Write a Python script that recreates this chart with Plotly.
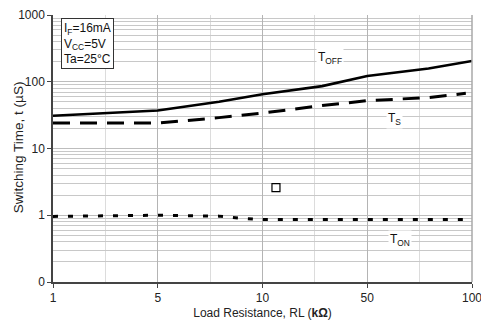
import numpy as np
import plotly.graph_objects as go

# X-axis tick values (equally spaced on the chart)
x_ticks = [1, 5, 10, 50, 100]
x_ticktext = ["1", "5", "10", "50", "100"]
y_ticks = [0.1, 1, 10, 100, 1000]
y_ticktext = ["0", "1", "10", "100", "1000"]

# T_OFF (solid)
toff_rl = [1, 2.5, 5, 7.5, 10, 25, 50, 75, 100]
toff_t = [31, 34, 37, 50, 65, 86, 122, 158, 205]

# T_S (dashed)
ts_rl = [1, 2.5, 5, 7.5, 10, 25, 50, 75, 96]
ts_t = [24, 24, 24, 29, 34, 44, 52, 58, 67]

# T_ON (dotted)
ton_rl = [1, 2.5, 5, 7.5, 8.5, 10, 25, 50, 75, 100]
ton_t = [0.96, 0.975, 1.0, 0.97, 0.91, 0.86, 0.86, 0.86, 0.86, 0.86]

# stray marker
mark_rl = [12.3]
mark_t = [2.6]


def xpos(rl):
    """Segmented scale: ticks 1, 5, 10, 50, 100 equally spaced."""
    return np.interp(np.log10(rl), np.log10(x_ticks), np.arange(len(x_ticks)))


fig = go.Figure()
fig.add_trace(go.Scatter(x=xpos(toff_rl), y=toff_t, mode="lines",
                         line=dict(color="black", width=2.6), showlegend=False))
fig.add_trace(go.Scatter(x=xpos(ts_rl), y=ts_t, mode="lines",
                         line=dict(color="black", width=3, dash="17px,10px"), showlegend=False))
fig.add_trace(go.Scatter(x=xpos(ton_rl), y=ton_t, mode="lines",
                         line=dict(color="black", width=3, dash="5px,10px"), showlegend=False))
fig.add_trace(go.Scatter(x=xpos(mark_rl), y=mark_t, mode="markers",
                         marker=dict(symbol="square-open", size=8, color="black",
                                     line=dict(width=1.2)), showlegend=False))

font = "Liberation Sans, Arial, sans-serif"

fig.update_layout(
    width=481, height=325,
    margin=dict(l=53, r=9, t=15, b=43, autoexpand=False),
    paper_bgcolor="white", plot_bgcolor="white",
    font=dict(family=font, size=12, color="#222"),
    xaxis=dict(
        range=[0, 4], tickvals=list(range(len(x_ticks))), ticktext=x_ticktext,
        showgrid=True, gridcolor="#b4b4b4", gridwidth=1,
        minor=dict(dtick=0.5, tick0=0, showgrid=True, gridcolor="#dcdcdc", gridwidth=1),
        showline=True, linecolor="#444", linewidth=1.5,
        ticks="outside", ticklen=4, tickcolor="#444",
        ticklabeloverflow="allow", automargin=False,
        zeroline=False, tickfont=dict(size=12, color="#222"),
        title=dict(text="Load Resistance, RL (<b>kΩ</b>)", font=dict(size=12), standoff=4),
    ),
    yaxis=dict(
        type="log", range=[-1, 3], tickvals=y_ticks, ticktext=y_ticktext,
        showgrid=True, gridcolor="#bdbdbd", gridwidth=1,
        minor=dict(dtick="D1", showgrid=True, gridcolor="#c8c8c8", gridwidth=1),
        showline=True, linecolor="#444", linewidth=1.5,
        ticks="outside", ticklen=4, tickcolor="#444",
        ticklabeloverflow="allow", automargin=False,
        tickfont=dict(size=12, color="#222"),
    ),
    shapes=[
        dict(type="line", xref="paper", yref="paper", x0=1, x1=1, y0=0, y1=1,
             line=dict(color="#a8a8a8", width=1.5)),
    ],
    annotations=[
        dict(xref="paper", yref="paper", x=-35 / 419, y=0.505, xanchor="center", yanchor="middle",
             text="Switching Time, t (µS)", textangle=-90, showarrow=False,
             font=dict(size=13.5, color="#222")),
        dict(xref="paper", yref="paper", x=0.018, y=0.99, xanchor="left", yanchor="top",
             text="I<sub>F</sub>=16mA<br>V<sub>CC</sub>=5V<br>Ta=25°C", align="left",
             showarrow=False, bordercolor="#333", borderwidth=1, borderpad=2,
             bgcolor="white", font=dict(size=12, color="#111")),
        dict(x=xpos([28])[0], y=np.log10(225), text="T<sub>OFF</sub>", showarrow=False,
             bgcolor="white", font=dict(size=12, color="#111")),
        dict(x=xpos([60])[0], y=np.log10(28), text="T<sub>S</sub>", showarrow=False,
             bgcolor="white", font=dict(size=12, color="#111")),
        dict(x=xpos([62])[0], y=np.log10(0.42), text="T<sub>ON</sub>", showarrow=False,
             bgcolor="white", font=dict(size=12, color="#111")),
    ],
)

fig.write_html("out.html")
